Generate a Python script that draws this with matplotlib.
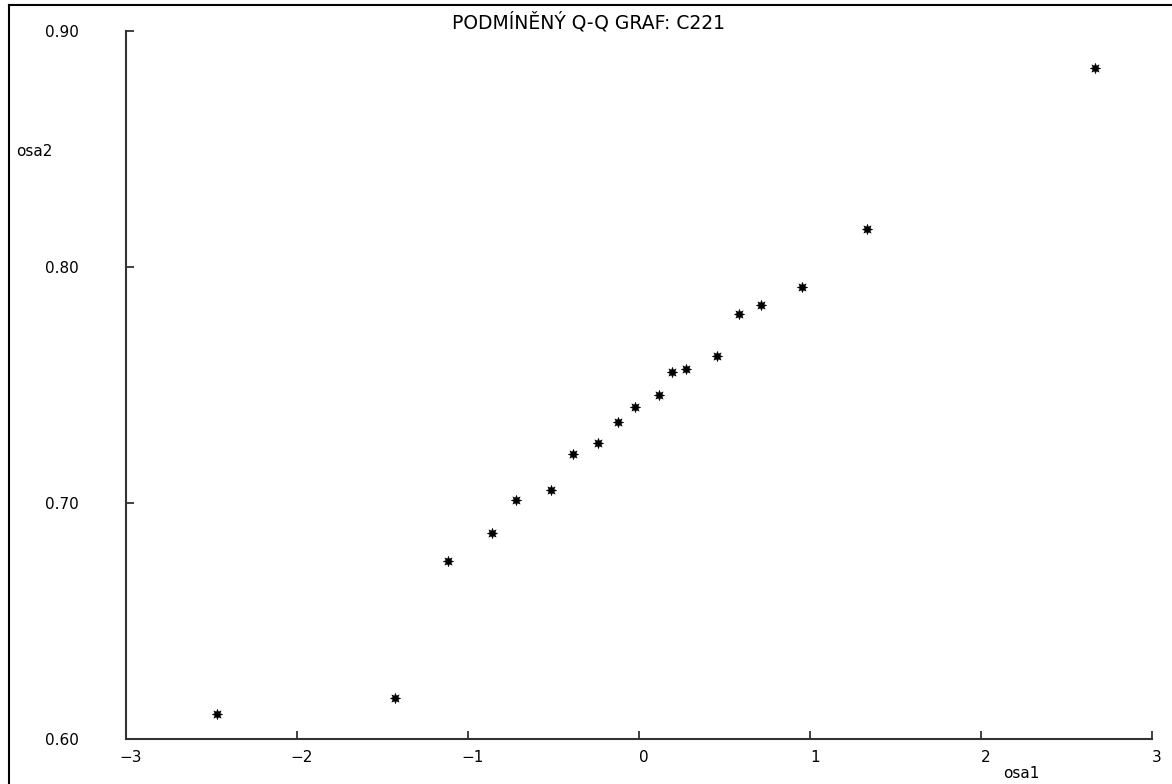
import matplotlib.pyplot as plt
import matplotlib.transforms as mtransforms
from matplotlib.lines import Line2D

# kvantily normalniho rozdeleni (osa1) a usporadane hodnoty C221 (osa2)
osa1 = [-2.468, -1.427, -1.115, -0.858, -0.719, -0.515, -0.388, -0.238, -0.121,
        -0.023, 0.115, 0.191, 0.275, 0.458, 0.587, 0.713, 0.951, 1.335, 2.665]
osa2 = [0.6105, 0.6172, 0.6754, 0.6874, 0.7013, 0.7055, 0.7208, 0.7256, 0.7344,
        0.7408, 0.7456, 0.7554, 0.7568, 0.7623, 0.7802, 0.7838, 0.7914, 0.8161, 0.8842]

x_ticks = [-3, -2, -1, 0, 1, 2, 3]
y_ticks = [0.60, 0.70, 0.80, 0.90]
y_labels = ['0.60', '0.70', '0.80', '0.90']

W, H = 1172, 784
fig = plt.figure(figsize=(W / 100, H / 100), dpi=100)
fig.patch.set_facecolor('white')

# umisteni os v pixelech
ax = fig.add_axes([126 / W, 1 - 739 / H, (1152 - 126) / W, (739 - 31) / H])
ax.set_xlim(-3, 3)
ax.set_ylim(0.60, 0.90)

ax.scatter(osa1, osa2, marker=(8, 1, 0), s=55, color='black', linewidths=0.4, zorder=3)

for side in ['top', 'right']:
    ax.spines[side].set_visible(False)
for side in ['left', 'bottom']:
    ax.spines[side].set_color('#333333')
    ax.spines[side].set_linewidth(1.5)

font = {'family': 'DejaVu Sans', 'size': 11}
ax.set_xticks(x_ticks)
ax.set_xticklabels([str(v).replace('-', '\u2212') for v in x_ticks], fontdict=font)
ax.set_yticks(y_ticks)
ax.set_yticklabels(y_labels, fontdict=font)
ax.tick_params(axis='x', direction='in', length=6, width=1.3, color='#333333', pad=8)
ax.tick_params(axis='y', direction='in', length=6, width=1.3, color='#333333', pad=34)

# popisky x posunout trochu doprava jako v originale
posun = mtransforms.ScaledTranslation(5 / 100, 0, fig.dpi_scale_trans)
for lab in ax.get_xticklabels():
    lab.set_transform(lab.get_transform() + posun)

fig.text(588 / W, 1 - 22 / H, 'PODMÍNĚNÝ Q-Q GRAF: C221', ha='center', va='center',
         family='DejaVu Sans', size=13.5)
fig.text(16 / W, 1 - 152 / H, 'osa2', ha='left', va='center', family='DejaVu Sans', size=11)
fig.text(1003 / W, 1 - 774 / H, 'osa1', ha='left', va='center', family='DejaVu Sans', size=11)

# ramecek okna
fig.add_artist(Line2D([8.5 / W, 8.5 / W], [0, 1 - 4.5 / H], transform=fig.transFigure,
                      color='black', linewidth=1.5))
fig.add_artist(Line2D([8.5 / W, 1], [1 - 4.5 / H, 1 - 4.5 / H], transform=fig.transFigure,
                      color='black', linewidth=1.5))

fig.savefig('out.png', dpi=100)
